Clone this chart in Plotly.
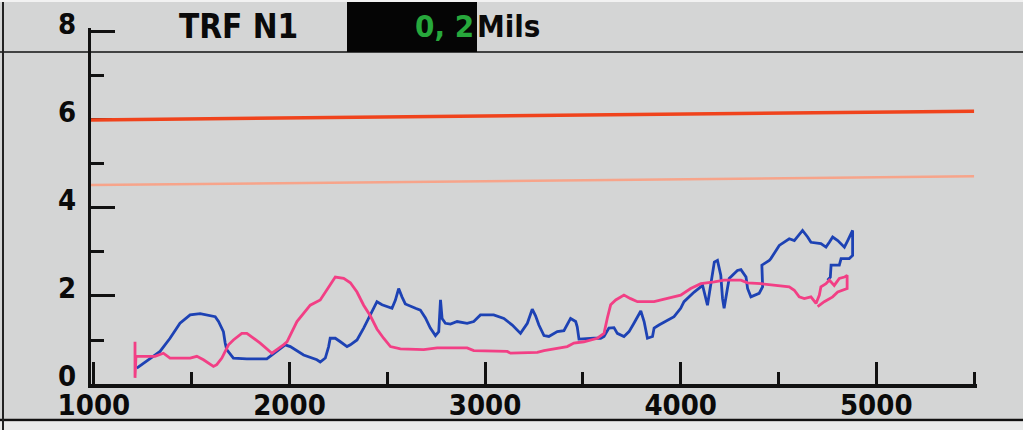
import plotly.graph_objects as go

# ---------------- data ----------------
blue_x = [1219, 1250, 1278, 1338, 1389, 1440, 1492, 1543, 1620, 1637, 1662, 1671, 1679, 1713, 1782,
          1884, 1910, 1978, 2004, 2072, 2140, 2157, 2183, 2200, 2208, 2234, 2260, 2294, 2311, 2345,
          2379, 2413, 2447, 2473, 2524, 2541, 2558, 2575, 2592, 2644, 2669, 2695, 2720, 2746, 2763,
          2772, 2780, 2797, 2823, 2857, 2908, 2942, 2976, 3044, 3096, 3139, 3181, 3216, 3241, 3258,
          3275, 3301, 3326, 3369, 3403, 3437, 3463, 3471, 3480, 3557, 3591, 3608, 3633, 3659, 3676,
          3710, 3736, 3761, 3796, 3813, 3830, 3856, 3864, 3889, 3932, 3966, 4000, 4017, 4069, 4112,
          4137, 4155, 4172, 4188, 4205, 4214, 4222, 4239, 4248, 4290, 4308, 4334, 4342, 4359, 4401,
          4419, 4415, 4453, 4461, 4504, 4555, 4581, 4606, 4623, 4649, 4666, 4717, 4743, 4760, 4777,
          4803, 4837, 4854, 4879, 4879, 4862, 4820, 4811, 4769, 4765, 4751]
blue_y = [0.36, 0.45, 0.55, 0.74, 1.04, 1.38, 1.57, 1.60, 1.53, 1.42, 1.19, 0.93, 0.78, 0.59, 0.57,
          0.57, 0.66, 0.89, 0.85, 0.66, 0.55, 0.50, 0.59, 0.85, 1.04, 1.04, 0.96, 0.85, 0.89, 1.00,
          1.27, 1.57, 1.87, 1.80, 1.72, 1.90, 2.17, 1.98, 1.82, 1.72, 1.68, 1.50, 1.27, 1.10, 1.19,
          1.91, 1.49, 1.38, 1.36, 1.42, 1.38, 1.42, 1.57, 1.57, 1.49, 1.34, 1.15, 1.38, 1.70, 1.55,
          1.34, 1.10, 1.08, 1.19, 1.21, 1.49, 1.42, 1.30, 1.02, 1.04, 1.04, 1.08, 1.27, 1.28, 1.15,
          1.08, 1.19, 1.38, 1.66, 1.42, 1.04, 1.08, 1.27, 1.34, 1.45, 1.53, 1.72, 1.87, 2.09, 2.24,
          1.79, 2.30, 2.77, 2.81, 2.47, 1.94, 1.72, 2.17, 2.40, 2.58, 2.60, 2.43, 2.17, 1.98, 2.06,
          2.21, 2.70, 2.81, 2.85, 3.15, 3.30, 3.26, 3.41, 3.49, 3.34, 3.22, 3.19, 3.11, 3.22, 3.34,
          3.26, 3.11, 3.26, 3.49, 2.92, 2.85, 2.85, 2.70, 2.70, 2.43, 2.36]

pink_x = [1210, 1210, 1215, 1219, 1312, 1355, 1389, 1492, 1526, 1560, 1611, 1628, 1654, 1688, 1713,
          1756, 1782, 1850, 1910, 1969, 1987, 2038, 2106, 2157, 2183, 2208, 2234, 2277, 2311, 2345,
          2379, 2413, 2447, 2481, 2516, 2567, 2686, 2755, 2908, 2942, 3113, 3130, 3267, 3301, 3420,
          3454, 3505, 3574, 3608, 3625, 3642, 3668, 3710, 3744, 3779, 3864, 3932, 4000, 4051, 4103,
          4172, 4222, 4308, 4342, 4410, 4513, 4555, 4581, 4606, 4632, 4666, 4692, 4709, 4717, 4743,
          4760, 4785, 4811, 4837, 4851, 4851, 4803, 4777, 4734, 4700]
pink_y = [0.96, 0.14, 0.63, 0.63, 0.63, 0.70, 0.59, 0.59, 0.63, 0.55, 0.40, 0.44, 0.59, 0.89, 1.00,
          1.15, 1.15, 0.93, 0.70, 0.89, 0.96, 1.42, 1.79, 1.91, 2.09, 2.28, 2.43, 2.40, 2.30, 2.09,
          1.79, 1.55, 1.25, 1.04, 0.85, 0.80, 0.78, 0.82, 0.82, 0.76, 0.74, 0.70, 0.72, 0.76, 0.85,
          0.93, 0.96, 1.04, 1.15, 1.50, 1.80, 1.91, 2.02, 1.94, 1.87, 1.87, 1.94, 2.02, 2.17, 2.28,
          2.32, 2.36, 2.36, 2.30, 2.28, 2.24, 2.21, 2.13, 1.98, 1.94, 1.98, 1.83, 2.02, 2.21, 2.28,
          2.36, 2.24, 2.40, 2.43, 2.47, 2.17, 2.09, 1.98, 1.87, 1.76]

level_x = [985, 5500]
alarm_level = [6.0, 6.2]
alert_level = [4.52, 4.72]

x_major_ticks = [1000, 2000, 3000, 4000, 5000]
x_tick_labels = ["1000", "2000", "3000", "4000", "5000"]
y_major_ticks = [0, 2, 4, 6, 8]
y_tick_labels = ["0", "2", "4", "6", "8"]

title_text = "TRF N1"
value_text = "0, 2"
unit_text = "Mils"

# ---------------- layout helpers (pixel -> paper) ----------------
W, H = 1023, 430
L, R, T, B = 91, 977, 28, 384
Y_TOP = 8.09


def px(x):
    return (x - L) / (R - L)


def py(y):
    return (B - y) / (B - T)


FONT = "DejaVu Sans Condensed, Liberation Sans Narrow, DejaVu Sans, sans-serif"
BG = "#d4d5d5"

fig = go.Figure()
fig.add_trace(go.Scatter(x=level_x, y=alarm_level, mode="lines",
                         line=dict(color="#f0431c", width=3.5), hoverinfo="skip"))
fig.add_trace(go.Scatter(x=level_x, y=alert_level, mode="lines",
                         line=dict(color="#f7a48a", width=2.5), hoverinfo="skip"))
fig.add_trace(go.Scatter(x=blue_x, y=blue_y, mode="lines",
                         line=dict(color="#1d42b4", width=2.8)))
fig.add_trace(go.Scatter(x=pink_x, y=pink_y, mode="lines",
                         line=dict(color="#f23f85", width=2.8)))

shapes = [
    # header separator line
    dict(type="line", xref="paper", yref="paper", x0=px(0), x1=px(W), y0=py(52), y1=py(52),
         line=dict(color="#111111", width=1.5), layer="above"),
    # black value box
    dict(type="rect", xref="paper", yref="paper", x0=px(347), x1=px(477), y0=py(2), y1=py(52),
         fillcolor="#050505", line=dict(width=0), layer="above"),
    # left border
    dict(type="line", xref="paper", yref="paper", x0=px(3), x1=px(3), y0=py(0), y1=py(H),
         line=dict(color="#222222", width=2), layer="above"),
    # bottom frame line
    dict(type="line", xref="paper", yref="paper", x0=px(0), x1=px(W), y0=py(420), y1=py(420),
         line=dict(color="#111111", width=2.5), layer="below"),
    # light strip at the bottom
    dict(type="rect", xref="paper", yref="paper", x0=px(0), x1=px(W), y0=py(421.5), y1=py(H),
         fillcolor="#e9eaea", line=dict(width=0), layer="below"),
    # light strip at the top
    dict(type="rect", xref="paper", yref="paper", x0=px(0), x1=px(W), y0=py(0), y1=py(2),
         fillcolor="#f2f2f2", line=dict(width=0), layer="above"),
]

annotations = [
    dict(text=title_text, xref="paper", yref="paper", x=px(238), y=py(26), showarrow=False,
         xanchor="center", yanchor="middle",
         font=dict(family=FONT, size=33, color="#0a0a0a", weight="bold")),
    dict(text=value_text, xref="paper", yref="paper", x=px(476), y=py(26), showarrow=False,
         xanchor="right", yanchor="middle",
         font=dict(family=FONT, size=31, color="#27a83c", weight="bold")),
    dict(text=unit_text, xref="paper", yref="paper", x=px(475), y=py(26), showarrow=False,
         xanchor="left", yanchor="middle",
         font=dict(family=FONT, size=31, color="#0a0a0a", weight="bold")),
]

fig.update_layout(
    width=W, height=H,
    margin=dict(l=L, r=W - R, t=T, b=H - B, pad=0, autoexpand=False),
    paper_bgcolor=BG, plot_bgcolor=BG,
    showlegend=False,
    shapes=shapes,
    annotations=annotations,
    xaxis=dict(range=[985, 5515], tickmode="array", tickvals=x_major_ticks, ticktext=x_tick_labels,
               ticks="inside", ticklen=22, tickwidth=3, tickcolor="#111111",
               minor=dict(dtick=500, tick0=1000, ticks="inside", ticklen=12, tickwidth=3,
                          tickcolor="#111111", showgrid=False),
               showline=True, linecolor="#111111", linewidth=3.5,
               showgrid=False, zeroline=False, automargin=False, layer="below traces",
               tickfont=dict(family=FONT, size=29, color="#0a0a0a", weight="bold"),
               ticklabelstandoff=-8),
    yaxis=dict(range=[0, Y_TOP], tickmode="array", tickvals=y_major_ticks, ticktext=y_tick_labels,
               ticks="inside", ticklen=24, tickwidth=3, tickcolor="#111111",
               minor=dict(dtick=1, tick0=0, ticks="inside", ticklen=13, tickwidth=3,
                          tickcolor="#111111", showgrid=False),
               showline=True, linecolor="#111111", linewidth=3,
               showgrid=False, zeroline=False, automargin=False, layer="below traces",
               tickfont=dict(family=FONT, size=29, color="#0a0a0a", weight="bold"),
               ticklabelshift=-8, ticklabelstandoff=6),
)

fig.write_html("out.html", config={"displayModeBar": False},
               post_script="document.body.style.margin='0';document.body.style.overflow='hidden';")
